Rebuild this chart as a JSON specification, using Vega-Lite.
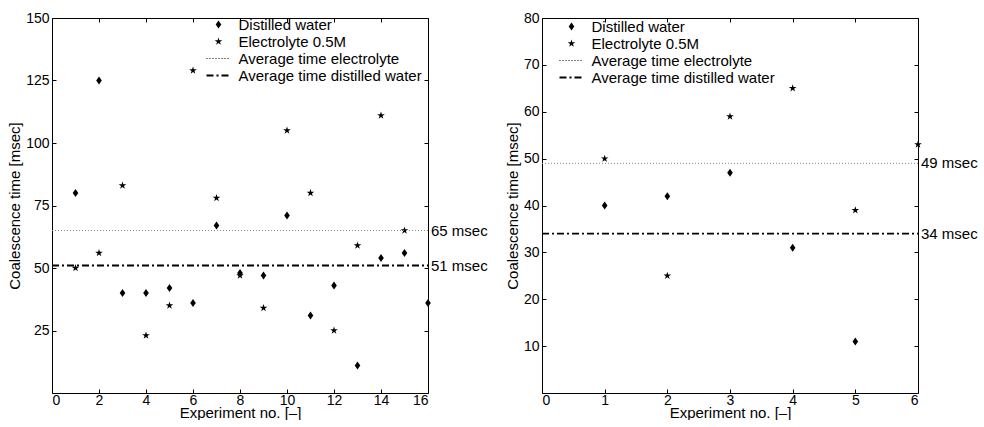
{
  "$schema": "https://vega.github.io/schema/vega-lite/v6.json",
  "background": "white",
  "padding": {"left": 7, "top": 11, "right": 0, "bottom": 0},
  "bounds": "flush",
  "spacing": 114,
  "config": {
    "font": "Liberation Sans",
    "view": {"stroke": null},
    "axis": {
      "labelFont": "Liberation Sans",
      "labelFontSize": 14,
      "labelColor": "black",
      "titleFont": "Liberation Sans",
      "titleFontSize": 15,
      "titleFontWeight": "normal",
      "titleColor": "black",
      "domainColor": "black",
      "domainWidth": 1,
      "tickColor": "black",
      "tickSize": -4,
      "tickWidth": 1,
      "grid": false
    },
    "axisX": {"labelPadding": 4, "titlePadding": -2},
    "axisY": {"labelPadding": 7, "titlePadding": 3},
    "legend": {
      "labelFont": "Liberation Sans",
      "labelFontSize": 15,
      "labelColor": "black",
      "labelOffset": 12.5,
      "labelLimit": 0,
      "rowPadding": 1,
      "padding": 0,
      "symbolSize": 64
    }
  },
  "datasets": {
    "left_points": [
      {"exp": 1, "series": "Distilled water", "time": 80},
      {"exp": 2, "series": "Distilled water", "time": 125},
      {"exp": 3, "series": "Distilled water", "time": 40},
      {"exp": 4, "series": "Distilled water", "time": 40},
      {"exp": 5, "series": "Distilled water", "time": 42},
      {"exp": 6, "series": "Distilled water", "time": 36},
      {"exp": 7, "series": "Distilled water", "time": 67},
      {"exp": 8, "series": "Distilled water", "time": 48},
      {"exp": 9, "series": "Distilled water", "time": 47},
      {"exp": 10, "series": "Distilled water", "time": 71},
      {"exp": 11, "series": "Distilled water", "time": 31},
      {"exp": 12, "series": "Distilled water", "time": 43},
      {"exp": 13, "series": "Distilled water", "time": 11},
      {"exp": 14, "series": "Distilled water", "time": 54},
      {"exp": 15, "series": "Distilled water", "time": 56},
      {"exp": 16, "series": "Distilled water", "time": 36},
      {"exp": 1, "series": "Electrolyte 0.5M", "time": 50},
      {"exp": 2, "series": "Electrolyte 0.5M", "time": 56},
      {"exp": 3, "series": "Electrolyte 0.5M", "time": 83},
      {"exp": 4, "series": "Electrolyte 0.5M", "time": 23},
      {"exp": 5, "series": "Electrolyte 0.5M", "time": 35},
      {"exp": 6, "series": "Electrolyte 0.5M", "time": 129},
      {"exp": 7, "series": "Electrolyte 0.5M", "time": 78},
      {"exp": 8, "series": "Electrolyte 0.5M", "time": 47},
      {"exp": 9, "series": "Electrolyte 0.5M", "time": 34},
      {"exp": 10, "series": "Electrolyte 0.5M", "time": 105},
      {"exp": 11, "series": "Electrolyte 0.5M", "time": 80},
      {"exp": 12, "series": "Electrolyte 0.5M", "time": 25},
      {"exp": 13, "series": "Electrolyte 0.5M", "time": 59},
      {"exp": 14, "series": "Electrolyte 0.5M", "time": 111},
      {"exp": 15, "series": "Electrolyte 0.5M", "time": 65}
    ],
    "left_avg": [
      {"series": "Average time electrolyte", "time": 65, "label": "65 msec"},
      {"series": "Average time distilled water", "time": 51, "label": "51 msec"}
    ],
    "right_points": [
      {"exp": 1, "series": "Distilled water", "time": 40},
      {"exp": 2, "series": "Distilled water", "time": 42},
      {"exp": 3, "series": "Distilled water", "time": 47},
      {"exp": 4, "series": "Distilled water", "time": 31},
      {"exp": 5, "series": "Distilled water", "time": 11},
      {"exp": 1, "series": "Electrolyte 0.5M", "time": 50},
      {"exp": 2, "series": "Electrolyte 0.5M", "time": 25},
      {"exp": 3, "series": "Electrolyte 0.5M", "time": 59},
      {"exp": 4, "series": "Electrolyte 0.5M", "time": 65},
      {"exp": 5, "series": "Electrolyte 0.5M", "time": 39},
      {"exp": 6, "series": "Electrolyte 0.5M", "time": 53}
    ],
    "right_avg": [
      {"series": "Average time electrolyte", "time": 49, "label": "49 msec"},
      {"series": "Average time distilled water", "time": 34, "label": "34 msec"}
    ]
  },
  "hconcat": [
    {
      "width": 376,
      "height": 375,
      "layer": [
        {
          "data": {"name": "left_points"},
          "mark": {"type": "point", "filled": true, "opacity": 1, "size": 64, "color": "black"},
          "encoding": {
            "x": {"field": "exp", "type": "quantitative", "scale": {"domain": [0, 16], "nice": false}, "axis": {"orient": "bottom", "values": [0, 2, 4, 6, 8, 10, 12, 14, 16], "title": "Experiment no. [–]"}},
            "y": {"field": "time", "type": "quantitative", "scale": {"domain": [0, 150], "nice": false}, "axis": {"orient": "left", "values": [25, 50, 75, 100, 125, 150], "title": "Coalescence time [msec]"}},
            "shape": {
              "field": "series", "type": "nominal",
              "scale": {"domain": ["Distilled water", "Electrolyte 0.5M", "Average time electrolyte", "Average time distilled water"], "range": [
                "M0,-1L0.7,0L0,1L-0.7,0Z",
                "M0,-1L0.2245,-0.309L0.9511,-0.309L0.3633,0.118L0.5878,0.809L0,0.382L-0.5878,0.809L-0.3633,0.118L-0.9511,-0.309L-0.2245,-0.309Z",
                "M-3,-0.125L-2.75,-0.125L-2.75,0.125L-3,0.125ZM-2.25,-0.125L-2,-0.125L-2,0.125L-2.25,0.125ZM-1.5,-0.125L-1.25,-0.125L-1.25,0.125L-1.5,0.125ZM-0.75,-0.125L-0.5,-0.125L-0.5,0.125L-0.75,0.125ZM0,-0.125L0.25,-0.125L0.25,0.125L0,0.125ZM0.75,-0.125L1,-0.125L1,0.125L0.75,0.125ZM1.5,-0.125L1.75,-0.125L1.75,0.125L1.5,0.125ZM2.25,-0.125L2.5,-0.125L2.5,0.125L2.25,0.125Z",
                "M-3,-0.225L-1.25,-0.225L-1.25,0.225L-3,0.225ZM-0.5,-0.225L0,-0.225L0,0.225L-0.5,0.225ZM0.75,-0.225L2.5,-0.225L2.5,0.225L0.75,0.225Z"
              ]},
              "legend": {
                "title": null, "orient": "none", "legendX": 159, "legendY": -1,
                "encode": {"symbols": {
                  "fill": {"value": {"expr": "datum.value === 'Average time electrolyte' ? '#888888' : 'black'"}},
                  "strokeWidth": {"value": 0},
                  "opacity": {"value": 1}
                }}
              }
            }
          }
        },
        {
          "data": {"name": "left_avg"},
          "transform": [{"filter": "datum.series === 'Average time electrolyte'"}],
          "mark": {"type": "rule", "color": "#888888", "strokeWidth": 1, "strokeDash": [1, 2]},
          "encoding": {
            "y": {"field": "time", "type": "quantitative", "axis": {"orient": "right", "values": [25, 50, 75, 100, 125, 150], "labels": false, "title": null}},
            "x": {"datum": 0, "type": "quantitative", "axis": {"orient": "top", "values": [0, 2, 4, 6, 8, 10, 12, 14, 16], "labels": false, "title": null}},
            "x2": {"datum": 16}
          }
        },
        {
          "data": {"name": "left_avg"},
          "transform": [{"filter": "datum.series === 'Average time distilled water'"}],
          "mark": {"type": "rule", "color": "black", "strokeWidth": 1.8, "strokeDash": [7, 3, 2, 3]},
          "encoding": {
            "y": {"field": "time", "type": "quantitative", "axis": null},
            "x": {"datum": 0, "type": "quantitative", "axis": null},
            "x2": {"datum": 16}
          }
        },
        {
          "data": {"name": "left_avg"},
          "mark": {"type": "text", "align": "left", "baseline": "middle", "dx": 3, "fontSize": 15, "font": "Liberation Sans", "color": "black"},
          "encoding": {
            "x": {"datum": 16, "type": "quantitative", "axis": null},
            "y": {"field": "time", "type": "quantitative", "axis": null},
            "text": {"field": "label"}
          }
        }
      ],
      "resolve": {"axis": {"x": "independent", "y": "independent"}}
    },
    {
      "width": 376,
      "height": 375,
      "layer": [
        {
          "data": {"name": "right_points"},
          "mark": {"type": "point", "filled": true, "opacity": 1, "size": 64, "color": "black"},
          "encoding": {
            "x": {"field": "exp", "type": "quantitative", "scale": {"domain": [0, 6], "nice": false}, "axis": {"orient": "bottom", "values": [0, 1, 2, 3, 4, 5, 6], "title": "Experiment no. [–]"}},
            "y": {"field": "time", "type": "quantitative", "scale": {"domain": [0, 80], "nice": false}, "axis": {"orient": "left", "values": [10, 20, 30, 40, 50, 60, 70, 80], "title": "Coalescence time [msec]"}},
            "shape": {
              "field": "series", "type": "nominal",
              "scale": {"domain": ["Distilled water", "Electrolyte 0.5M", "Average time electrolyte", "Average time distilled water"], "range": [
                "M0,-1L0.7,0L0,1L-0.7,0Z",
                "M0,-1L0.2245,-0.309L0.9511,-0.309L0.3633,0.118L0.5878,0.809L0,0.382L-0.5878,0.809L-0.3633,0.118L-0.9511,-0.309L-0.2245,-0.309Z",
                "M-3,-0.125L-2.75,-0.125L-2.75,0.125L-3,0.125ZM-2.25,-0.125L-2,-0.125L-2,0.125L-2.25,0.125ZM-1.5,-0.125L-1.25,-0.125L-1.25,0.125L-1.5,0.125ZM-0.75,-0.125L-0.5,-0.125L-0.5,0.125L-0.75,0.125ZM0,-0.125L0.25,-0.125L0.25,0.125L0,0.125ZM0.75,-0.125L1,-0.125L1,0.125L0.75,0.125ZM1.5,-0.125L1.75,-0.125L1.75,0.125L1.5,0.125ZM2.25,-0.125L2.5,-0.125L2.5,0.125L2.25,0.125Z",
                "M-3,-0.225L-1.25,-0.225L-1.25,0.225L-3,0.225ZM-0.5,-0.225L0,-0.225L0,0.225L-0.5,0.225ZM0.75,-0.225L2.5,-0.225L2.5,0.225L0.75,0.225Z"
              ]},
              "legend": {
                "title": null, "orient": "none", "legendX": 22, "legendY": 1,
                "encode": {"symbols": {
                  "fill": {"value": {"expr": "datum.value === 'Average time electrolyte' ? '#888888' : 'black'"}},
                  "strokeWidth": {"value": 0},
                  "opacity": {"value": 1}
                }}
              }
            }
          }
        },
        {
          "data": {"name": "right_avg"},
          "transform": [{"filter": "datum.series === 'Average time electrolyte'"}],
          "mark": {"type": "rule", "color": "#888888", "strokeWidth": 1, "strokeDash": [1, 2]},
          "encoding": {
            "y": {"field": "time", "type": "quantitative", "axis": {"orient": "right", "values": [10, 20, 30, 40, 50, 60, 70, 80], "labels": false, "title": null}},
            "x": {"datum": 0, "type": "quantitative", "axis": {"orient": "top", "values": [0, 1, 2, 3, 4, 5, 6], "labels": false, "title": null}},
            "x2": {"datum": 6}
          }
        },
        {
          "data": {"name": "right_avg"},
          "transform": [{"filter": "datum.series === 'Average time distilled water'"}],
          "mark": {"type": "rule", "color": "black", "strokeWidth": 1.8, "strokeDash": [7, 3, 2, 3]},
          "encoding": {
            "y": {"field": "time", "type": "quantitative", "axis": null},
            "x": {"datum": 0, "type": "quantitative", "axis": null},
            "x2": {"datum": 6}
          }
        },
        {
          "data": {"name": "right_avg"},
          "mark": {"type": "text", "align": "left", "baseline": "middle", "dx": 3, "fontSize": 15, "font": "Liberation Sans", "color": "black"},
          "encoding": {
            "x": {"datum": 6, "type": "quantitative", "axis": null},
            "y": {"field": "time", "type": "quantitative", "axis": null},
            "text": {"field": "label"}
          }
        }
      ],
      "resolve": {"axis": {"x": "independent", "y": "independent"}}
    }
  ],
  "resolve": {"scale": {"shape": "independent"}, "legend": {"shape": "independent"}}
}
